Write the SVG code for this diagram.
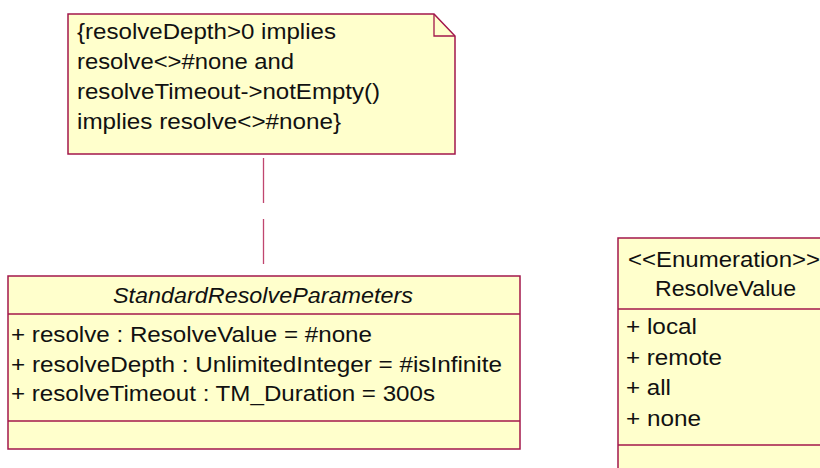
<svg xmlns="http://www.w3.org/2000/svg" width="820" height="468" viewBox="0 0 820 468">
<style>
.box{fill:#FFFFCC;stroke:#A3174B;stroke-width:1.5}
.sep{stroke:#A3174B;stroke-width:1.3;fill:none}
.t{font-family:"Liberation Sans",Arial,sans-serif;font-size:22px;fill:#111}
.it{font-style:italic}
.conn{stroke:#C0466F;stroke-width:1.3;fill:none;stroke-dasharray:45 16}
</style>
<rect width="820" height="468" fill="#FFFFFF"/>
<g id="note">
<polygon class="box" points="68,14 434,14 455,36 455,154 68,154"/>
<polyline class="sep" points="434,14 434,36 455,36"/>
<text class="t" x="77" y="38.5" textLength="259" lengthAdjust="spacingAndGlyphs">{resolveDepth&gt;0 implies</text>
<text class="t" x="77" y="68.5" textLength="217" lengthAdjust="spacingAndGlyphs">resolve&lt;&gt;#none and</text>
<text class="t" x="77" y="99" textLength="303" lengthAdjust="spacingAndGlyphs">resolveTimeout-&gt;notEmpty()</text>
<text class="t" x="77" y="129" textLength="264" lengthAdjust="spacingAndGlyphs">implies resolve&lt;&gt;#none}</text>
</g>
<g id="connectors">
<line class="conn" x1="263.5" y1="158" x2="263.5" y2="265"/>
</g>
<g id="StandardResolveParameters">
<rect class="box" x="8" y="276" width="512" height="173"/>
<line class="sep" x1="8" y1="314" x2="520" y2="314"/>
<line class="sep" x1="8" y1="421" x2="520" y2="421"/>
<text class="t it" x="113" y="303" textLength="300" lengthAdjust="spacingAndGlyphs">StandardResolveParameters</text>
<text class="t" x="11" y="342" textLength="361" lengthAdjust="spacingAndGlyphs">+ resolve : ResolveValue = #none</text>
<text class="t" x="11" y="371.5" textLength="491" lengthAdjust="spacingAndGlyphs">+ resolveDepth : UnlimitedInteger = #isInfinite</text>
<text class="t" x="11" y="401" textLength="424" lengthAdjust="spacingAndGlyphs">+ resolveTimeout : TM_Duration = 300s</text>
</g>
<g id="ResolveValue">
<rect class="box" x="618" y="238" width="220" height="250"/>
<line class="sep" x1="618" y1="309" x2="838" y2="309"/>
<line class="sep" x1="618" y1="445" x2="838" y2="445"/>
<text class="t" x="628" y="267" textLength="192" lengthAdjust="spacingAndGlyphs">&lt;&lt;Enumeration&gt;&gt;</text>
<text class="t" x="655" y="295.5" textLength="141" lengthAdjust="spacingAndGlyphs">ResolveValue</text>
<text class="t" x="626" y="334" textLength="71" lengthAdjust="spacingAndGlyphs">+ local</text>
<text class="t" x="626" y="364.5" textLength="96" lengthAdjust="spacingAndGlyphs">+ remote</text>
<text class="t" x="626" y="395" textLength="45" lengthAdjust="spacingAndGlyphs">+ all</text>
<text class="t" x="626" y="425.5" textLength="75" lengthAdjust="spacingAndGlyphs">+ none</text>
</g>
</svg>
